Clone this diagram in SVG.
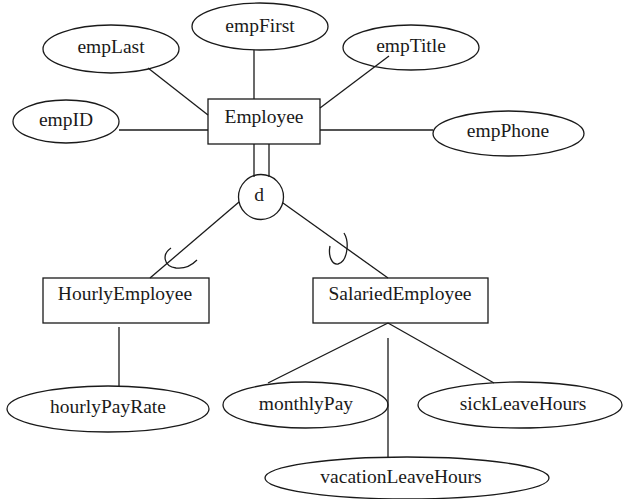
<svg xmlns="http://www.w3.org/2000/svg" width="628" height="499" viewBox="0 0 628 499">
<style>
.s{fill:none;stroke:#1a1a1a;stroke-width:1.3}
.b{fill:none;stroke:#1a1a1a;stroke-width:1.3}
text{font-family:"Liberation Serif","Times New Roman",serif;font-size:19.5px;fill:#1a1a1a;text-anchor:middle}
</style>
<rect width="628" height="499" fill="#fff"/>
<g id="connectors" class="s">
<line x1="148" y1="68" x2="208" y2="115"/>
<line x1="254" y1="50" x2="254" y2="99"/>
<line x1="389" y1="56" x2="320" y2="108"/>
<line x1="119" y1="130" x2="208" y2="130"/>
<line x1="320" y1="130" x2="433" y2="130"/>
<line x1="254" y1="144" x2="254" y2="177"/>
<line x1="269" y1="144" x2="269" y2="177"/>
<line x1="239" y1="202" x2="150" y2="278"/>
<line x1="283" y1="203" x2="388" y2="278"/>
<path d="M171,248 C162,254 163,266 176,268 C184,269 192,265 197,260"/>
<path d="M344,233 C350,243 347,262 338,264 C332,265 328,256 330,246"/>
<line x1="119" y1="327" x2="119" y2="386"/>
<line x1="388" y1="323" x2="268" y2="383"/>
<line x1="388" y1="323" x2="494" y2="383"/>
<line x1="388" y1="338" x2="388" y2="457"/>
</g>
<g id="empLast"><ellipse class="b" cx="111" cy="49" rx="68" ry="24"/><text x="111" y="53">empLast</text></g>
<g id="empFirst"><ellipse class="b" cx="260" cy="26.5" rx="68" ry="23.5"/><text x="260" y="32">empFirst</text></g>
<g id="empTitle"><ellipse class="b" cx="411" cy="47.5" rx="68" ry="22.5"/><text x="411" y="52">empTitle</text></g>
<g id="empID"><ellipse class="b" cx="66" cy="121.5" rx="53" ry="21.5"/><text x="66" y="126">empID</text></g>
<g id="empPhone"><ellipse class="b" cx="508.5" cy="133.5" rx="75.5" ry="22.5"/><text x="508" y="137">empPhone</text></g>
<g id="Employee"><rect class="b" x="208" y="99" width="112" height="45"/><text x="264" y="123">Employee</text></g>
<g id="d"><circle class="b" cx="261" cy="197" r="22.5"/><text x="259" y="201">d</text></g>
<g id="HourlyEmployee"><rect class="b" x="43" y="278" width="166" height="45"/><text x="125" y="300">HourlyEmployee</text></g>
<g id="SalariedEmployee"><rect class="b" x="313" y="278" width="175" height="45"/><text x="400" y="300">SalariedEmployee</text></g>
<g id="hourlyPayRate"><ellipse class="b" cx="108" cy="409" rx="101" ry="23"/><text x="108" y="413">hourlyPayRate</text></g>
<g id="monthlyPay"><ellipse class="b" cx="305.5" cy="405" rx="82.5" ry="23"/><text x="306" y="410">monthlyPay</text></g>
<g id="sickLeaveHours"><ellipse class="b" cx="520" cy="405" rx="102" ry="23"/><text x="523" y="410">sickLeaveHours</text></g>
<g id="vacationLeaveHours"><ellipse class="b" cx="407" cy="478" rx="142" ry="21"/><text x="401" y="483">vacationLeaveHours</text></g>
</svg>
